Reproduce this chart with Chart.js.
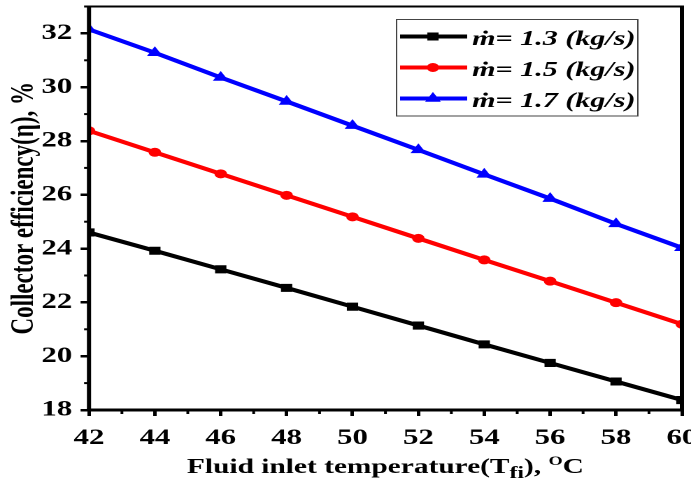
<!DOCTYPE html>
<html>
<head>
<meta charset="utf-8">
<script src="https://cdn.jsdelivr.net/npm/chart.js@4/dist/chart.umd.min.js"></script>
<style>
  html, body { margin: 0; padding: 0; background: #fff; overflow: hidden; }
  /* drawing is laid out on a narrower canvas and widened horizontally */
  #wrap { position: absolute; left: 0; top: 0; width: 494px; height: 483px;
          transform: scaleX(1.39878); transform-origin: 0 0; }
</style>
</head>
<body>
<div id="wrap"><canvas id="c"></canvas></div>
<script>
// Fluid inlet temperature, °C
const temps = [42, 44, 46, 48, 50, 52, 54, 56, 58, 60];
// Collector efficiency (%) for each mass flow rate
const eff13 = [24.6, 23.92, 23.23, 22.54, 21.84, 21.14, 20.44, 19.75, 19.06, 18.37];
const eff15 = [28.38, 27.58, 26.78, 25.98, 25.18, 24.38, 23.58, 22.79, 21.99, 21.19];
const eff17 = [32.15, 31.28, 30.36, 29.47, 28.57, 27.67, 26.76, 25.86, 24.92, 24.03];
const massFlows = ['1.3', '1.5', '1.7'];

const xTicks = [42, 44, 46, 48, 50, 52, 54, 56, 58, 60];
const xMinor = [43, 45, 47, 49, 51, 53, 55, 57, 59];
const yTicks = [18, 20, 22, 24, 26, 28, 30, 32];
const yMinor = [19, 21, 23, 25, 27, 29, 31, 33];

const FONT = '"Liberation Serif", "Times New Roman", serif';
const colors = ['#000000', '#ff0000', '#0000ff'];
const styles = ['rect', 'circle', 'triangle'];
const radii = [5, 4, 5.5];
const seriesValues = [eff13, eff15, eff17];

const datasets = seriesValues.map((vals, i) => ({
  label: 'ṁ= ' + massFlows[i] + ' (kg/s)',
  data: temps.map((t, j) => ({ x: t, y: vals[j] })),
  borderColor: colors[i],
  backgroundColor: colors[i],
  borderWidth: 4,
  pointStyle: styles[i],
  pointRadius: radii[i],
  pointBorderWidth: 1,
  pointBackgroundColor: colors[i],
  pointBorderColor: colors[i],
  tension: 0
}));

// frame, minor ticks, axis titles and boxed legend
const decor = {
  id: 'decor',
  afterDraw(chart) {
    const ctx = chart.ctx;
    const ca = chart.chartArea;
    const xs = chart.scales.x, ys = chart.scales.y;
    ctx.save();
    ctx.strokeStyle = '#000';
    ctx.lineCap = 'butt';

    // minor ticks
    ctx.lineWidth = 2;
    xMinor.forEach(v => {
      const px = xs.getPixelForValue(v);
      ctx.beginPath(); ctx.moveTo(px, ca.bottom); ctx.lineTo(px, ca.bottom + 4); ctx.stroke();
    });
    yMinor.forEach(v => {
      const py = ys.getPixelForValue(v);
      ctx.beginPath(); ctx.moveTo(ca.left, py); ctx.lineTo(ca.left - 3.5, py); ctx.stroke();
    });

    // frame
    ctx.lineWidth = 2;
    ctx.beginPath(); ctx.moveTo(ca.left, ca.top); ctx.lineTo(ca.right, ca.top); ctx.stroke();
    ctx.lineWidth = 3;
    ctx.beginPath(); ctx.moveTo(ca.left, ca.top - 1); ctx.lineTo(ca.left, ca.bottom + 1.5); ctx.stroke();
    ctx.beginPath(); ctx.moveTo(ca.left - 1.5, ca.bottom); ctx.lineTo(ca.right + 1.5, ca.bottom); ctx.stroke();
    ctx.beginPath(); ctx.moveTo(ca.right, ca.top - 1); ctx.lineTo(ca.right, ca.bottom + 1.5); ctx.stroke();

    // x title with subscript and superscript
    ctx.fillStyle = '#000';
    ctx.textBaseline = 'alphabetic';
    ctx.textAlign = 'left';
    const parts = [
      { t: 'Fluid inlet temperature(T', f: 'bold 21px ' + FONT, dy: 0 },
      { t: 'fi', f: 'bold 17px ' + FONT, dy: 5 },
      { t: '), ', f: 'bold 21px ' + FONT, dy: 0 },
      { t: 'O', f: 'bold 13px ' + FONT, dy: -8 },
      { t: 'C', f: 'bold 21px ' + FONT, dy: 0 }
    ];
    let total = 0;
    parts.forEach(p => { ctx.font = p.f; p.w = ctx.measureText(p.t).width; total += p.w; });
    let x0 = (ca.left + ca.right) / 2 - total / 2;
    const base = 473;
    parts.forEach(p => { ctx.font = p.f; ctx.fillText(p.t, x0, base + p.dy); x0 += p.w; });

    // y title
    ctx.save();
    ctx.translate(23.5, (ca.top + ca.bottom) / 2);
    ctx.rotate(-Math.PI / 2);
    ctx.textAlign = 'center';
    ctx.font = 'bold 23px ' + FONT;
    ctx.fillText('Collector efficiency(η), %', 0, 0);
    ctx.restore();

    // legend box
    const lx = ca.right - 204, ly = 19.5, lw = 172.5, lh = 96.5;
    ctx.fillStyle = '#fff';
    ctx.fillRect(lx, ly, lw, lh);
    ctx.strokeStyle = '#444';
    ctx.lineWidth = 1;
    ctx.strokeRect(lx, ly, lw, lh);
    const rowY = [36.5, 67.5, 98.5];
    datasets.forEach((ds, i) => {
      const y = rowY[i];
      ctx.strokeStyle = ds.borderColor;
      ctx.lineWidth = 4;
      ctx.beginPath(); ctx.moveTo(lx + 2.5, y); ctx.lineTo(lx + 50.5, y); ctx.stroke();
      ctx.fillStyle = ds.borderColor;
      ctx.lineWidth = 1;
      Chart.helpers.drawPoint(ctx, { pointStyle: ds.pointStyle, radius: ds.pointRadius, rotation: 0, borderWidth: 1 }, lx + 26, y);
      ctx.fillStyle = '#000';
      ctx.font = 'italic bold 21.5px ' + FONT;
      ctx.textAlign = 'left';
      ctx.fillText(ds.label, lx + 54, y + 8.5);
    });
    ctx.restore();
  }
};

new Chart(document.getElementById('c'), {
  type: 'line',
  data: { datasets },
  options: {
    responsive: true,
    maintainAspectRatio: false,
    animation: false,
    devicePixelRatio: 2,
    layout: { padding: { left: 0, top: 6, right: 5.4, bottom: 0 } },
    plugins: { legend: { display: false }, tooltip: { enabled: false } },
    scales: {
      x: {
        type: 'linear',
        min: 42, max: 60,
        afterBuildTicks: s => { s.ticks = xTicks.map(v => ({ value: v })); },
        afterFit: s => { s.height = 73; s.paddingLeft = 0; s.paddingRight = 0; },
        ticks: { color: '#000', font: { family: FONT, size: 22, weight: 'bold' }, padding: 9, maxRotation: 0, autoSkip: false },
        grid: { drawOnChartArea: false, drawTicks: true, tickLength: 6, tickWidth: 2.5, lineWidth: 2.5, color: '#000', tickColor: '#000' },
        border: { display: false }
      },
      y: {
        type: 'linear',
        min: 18, max: 33,
        afterBuildTicks: s => { s.ticks = yTicks.map(v => ({ value: v })); },
        afterFit: s => { s.width = 63.6; s.paddingTop = 0; s.paddingBottom = 0; },
        ticks: { color: '#000', font: { family: FONT, size: 22, weight: 'bold' }, padding: 6 },
        grid: { drawOnChartArea: false, drawTicks: true, tickLength: 6, tickWidth: 2.5, lineWidth: 2.5, color: '#000', tickColor: '#000' },
        border: { display: false }
      }
    }
  },
  plugins: [decor]
});
</script>
</body>
</html>
